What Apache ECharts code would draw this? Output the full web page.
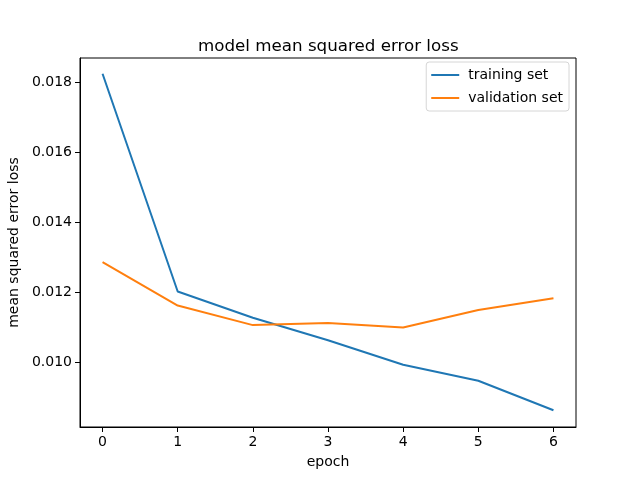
<!DOCTYPE html>
<html><head><meta charset="utf-8">
<script src="https://cdn.jsdelivr.net/npm/echarts@6/dist/echarts.min.js"></script>
<style>html,body{margin:0;padding:0;background:#fff}#c{width:640px;height:480px}</style>
</head><body><div id="c"></div>
<script>
const epochs = [0, 1, 2, 3, 4, 5, 6];
const trainingLoss = [0.01824, 0.01202, 0.01127, 0.01063, 0.00993, 0.00947, 0.00863];
const validationLoss = [0.01286, 0.01162, 0.01106, 0.01112, 0.01099, 0.01149, 0.01183];
const xTicks = [0, 1, 2, 3, 4, 5, 6];
const yTicks = [0.010, 0.012, 0.014, 0.016, 0.018];

const font = 'DejaVu Sans';
const chart = echarts.init(document.getElementById('c'));
chart.setOption({
  animation: false,
  backgroundColor: '#fff',
  title: {
    text: 'model mean squared error loss', left: 193, top: 33,
    textStyle: {fontFamily: font, fontSize: 16.7, fontWeight: 'normal', color: '#000'}
  },
  legend: {
    orient: 'vertical', right: 71, top: 62,
    data: ['training set', 'validation set'],
    icon: 'rect', itemWidth: 28, itemHeight: 2, itemGap: 9,
    backgroundColor: '#fff', borderColor: '#d6d6d6', borderWidth: 1, borderRadius: 3,
    padding: [6, 6, 6, 5],
    textStyle: {fontFamily: font, fontSize: 14, color: '#000', padding: [0, 0, 0, 4]}
  },
  grid: {left: 80, right: 64, top: 58, bottom: 53, show: true, borderColor: '#000', borderWidth: 1,
         containLabel: false, outerBoundsMode: 'none'},
  xAxis: {
    type: 'value', min: -0.3, max: 6.3,
    name: 'epoch', nameLocation: 'middle', nameGap: 28,
    nameTextStyle: {fontFamily: font, fontSize: 14, color: '#000'},
    axisLine: {show: true, onZero: false, lineStyle: {color: '#000'}},
    axisTick: {show: true, inside: false, length: 5, lineStyle: {color: '#000'}, customValues: xTicks},
    axisLabel: {fontFamily: font, fontSize: 14, color: '#000', margin: 8, customValues: xTicks, formatter: v => String(v)},
    splitLine: {show: false}
  },
  yAxis: {
    type: 'value', min: 0.00815, max: 0.01869,
    name: 'mean squared error loss', nameLocation: 'middle', nameGap: 56,
    nameTextStyle: {fontFamily: font, fontSize: 14, color: '#000'},
    axisLine: {show: true, onZero: false, lineStyle: {color: '#000'}},
    axisTick: {show: true, inside: false, length: 5, lineStyle: {color: '#000'}, customValues: yTicks},
    axisLabel: {fontFamily: font, fontSize: 14, color: '#000', margin: 8, customValues: yTicks, formatter: v => v.toFixed(3)},
    splitLine: {show: false}
  },
  series: [
    {name: 'training set', type: 'line', data: epochs.map((e, i) => [e, trainingLoss[i]]),
     showSymbol: false, lineStyle: {color: '#1f77b4', width: 2}, itemStyle: {color: '#1f77b4'}},
    {name: 'validation set', type: 'line', data: epochs.map((e, i) => [e, validationLoss[i]]),
     showSymbol: false, lineStyle: {color: '#ff7f0e', width: 2}, itemStyle: {color: '#ff7f0e'}}
  ]
});
</script></body></html>
